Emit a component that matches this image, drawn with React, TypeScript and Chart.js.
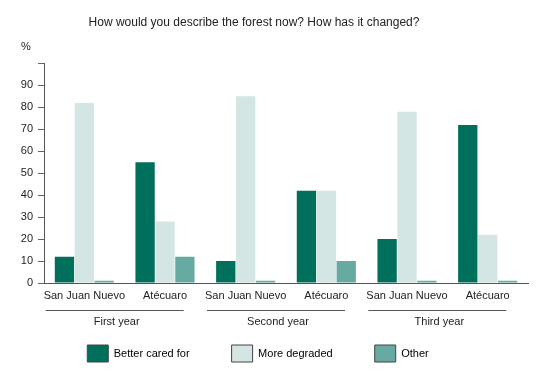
import React, { useEffect, useRef } from 'react';
import { Chart, registerables } from 'chart.js';

Chart.register(...registerables);

const FONT = '"Liberation Sans", Arial, Helvetica, sans-serif';

const chartTitle = 'How would you describe the forest now? How has it changed?';
const unitLabel = '%';
const categories = ['San Juan Nuevo', 'Atécuaro', 'San Juan Nuevo', 'Atécuaro', 'San Juan Nuevo', 'Atécuaro'];
const groupLabels = ['First year', 'Second year', 'Third year'];
const seriesNames = ['Better cared for', 'More degraded', 'Other'];
const betterCaredFor = [12, 55, 10, 42, 20, 72];
const moreDegraded = [82, 28, 85, 42, 78, 22];
const other = [1, 12, 1, 10, 1, 1];
const seriesColors = ['#006F5B', '#D3E6E3', '#66AAA1'];
const yMax = 100;
const yStep = 10;

const extrasPlugin = {
  id: 'extras',
  afterLayout(chart: any) {
    const tb = chart.titleBlock;
    if (tb) {
      tb.left -= 10;
      tb.right -= 10;
    }
    const lg = chart.legend;
    if (lg) {
      lg.left -= 6;
      lg.right -= 6;
    }
  },
  afterDraw(chart: any) {
    const ctx = chart.ctx;
    const xs = chart.scales.x;
    ctx.save();
    ctx.font = '11px ' + FONT;
    ctx.fillStyle = '#222';
    ctx.textBaseline = 'middle';
    ctx.textAlign = 'left';
    ctx.fillText(unitLabel, 21, chart.chartArea.top - 16);
    const lineY = Math.round(xs.top + 27) + 0.5;
    const textY = xs.top + 39;
    groupLabels.forEach((g, i) => {
      const c = (xs.getPixelForValue(2 * i) + xs.getPixelForValue(2 * i + 1)) / 2 - 10;
      ctx.strokeStyle = '#555';
      ctx.lineWidth = 1;
      ctx.beginPath();
      ctx.moveTo(c - 69, lineY);
      ctx.lineTo(c + 69, lineY);
      ctx.stroke();
      ctx.textAlign = 'center';
      ctx.fillText(g, c + 2, textY);
    });
    ctx.restore();
  },
};

export default function App() {
  const ref = useRef<HTMLCanvasElement>(null);

  useEffect(() => {
    if (!ref.current) return;
    Chart.defaults.font.family = FONT;
    const data = [betterCaredFor, moreDegraded, other];
    const chart = new Chart(ref.current, {
      type: 'bar',
      data: {
        labels: categories,
        datasets: data.map((d, i) => ({
          label: seriesNames[i],
          data: d,
          backgroundColor: seriesColors[i],
          borderWidth: 0,
          barPercentage: 0.97,
          categoryPercentage: 0.74,
        })),
      },
      options: {
        animation: false,
        responsive: false,
        layout: { padding: { left: 0, right: 22, top: 0, bottom: 5 } },
        plugins: {
          title: {
            display: true,
            text: chartTitle,
            color: '#222',
            font: { size: 12, weight: 'normal', family: FONT },
            padding: { top: 15, bottom: 34 },
          },
          legend: {
            position: 'bottom',
            labels: {
              boxWidth: 21,
              boxHeight: 17,
              padding: 42,
              color: '#222',
              font: { size: 11, family: FONT },
              generateLabels: (c: any) =>
                c.data.datasets.map((ds: any, i: number) => ({
                  text: ds.label,
                  fillStyle: ds.backgroundColor,
                  strokeStyle: '#444',
                  lineWidth: 1,
                  hidden: false,
                  datasetIndex: i,
                })),
            },
          },
          tooltip: { enabled: false },
        },
        scales: {
          x: {
            afterFit: (s: any) => {
              s.height = 20;
            },
            grid: { display: false, drawTicks: false },
            border: { display: true, color: '#555', width: 1 },
            ticks: {
              color: '#222',
              font: { size: 11, family: FONT },
              padding: 6,
              maxRotation: 0,
              autoSkip: false,
            },
          },
          y: {
            min: 0,
            max: yMax,
            afterFit: (s: any) => {
              s.width = 44;
            },
            grid: { drawOnChartArea: false, drawTicks: true, tickLength: 6, color: '#666' },
            border: { display: true, color: '#555', width: 1 },
            ticks: {
              stepSize: yStep,
              color: '#222',
              font: { size: 11, family: FONT },
              padding: 5,
              callback: (v: any) => (Number(v) === yMax ? '' : String(v)),
            },
          },
        },
      },
      plugins: [extrasPlugin],
    });
    return () => chart.destroy();
  }, []);

  return (
    <div style={{ position: 'absolute', left: 0, top: 0, width: 550, height: 377, background: '#fff' }}>
      <canvas ref={ref} width={550} height={377} style={{ display: 'block' }} />
    </div>
  );
}
